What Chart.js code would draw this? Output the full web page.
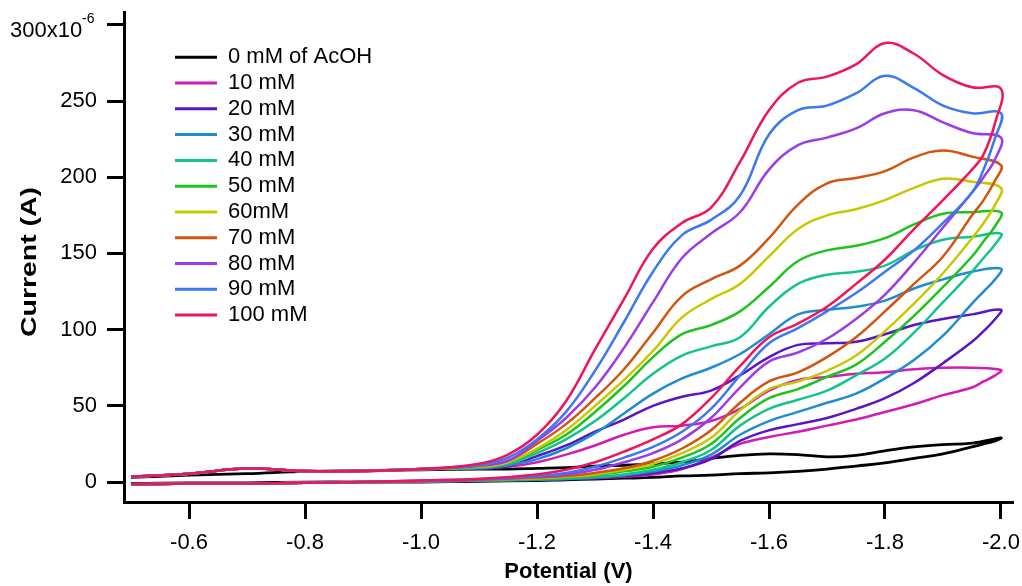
<!DOCTYPE html>
<html>
<head>
<meta charset="utf-8">
<script src="https://cdn.jsdelivr.net/npm/chart.js@4.4.0/dist/chart.umd.min.js"></script>
<style>
html,body{margin:0;padding:0;background:#ffffff;}
#wrap{width:1022px;height:586px;position:relative;}
</style>
</head>
<body>
<div id="wrap"><canvas id="c" width="1022" height="586"></canvas></div>
<script>
// ---- data (current in 1e-6 A, potential in V) ----
const seriesLabels = ['0 mM of AcOH','10 mM','20 mM','30 mM','40 mM','50 mM','60mM','70 mM','80 mM','90 mM','100 mM'];
const seriesColors = ['#000000','#d21cb4','#5a14c8','#1e8cd2','#14c38c','#1ec31e','#c8c800','#d2550f','#9b3ce6','#3c78f0','#f0145a'];

const xTicks = [-0.6,-0.8,-1.0,-1.2,-1.4,-1.6,-1.8,-2.0];
const yTicks = [0,50,100,150,200,250,300];

// forward (cathodic) sweep potentials
const fwdX = [-0.5,-0.6,-0.7,-0.8,-0.9,-1.0,-1.1,-1.15,-1.2,-1.25,-1.3,-1.35,-1.4,-1.45,-1.5,-1.55,-1.6,-1.65,-1.7,-1.75,-1.8,-1.85,-1.9,-1.95,-2.0];
// reverse sweep potentials
const revX = [-1.99,-1.97,-1.95,-1.9,-1.85,-1.8,-1.75,-1.7,-1.65,-1.6,-1.55,-1.5,-1.45,-1.4,-1.35,-1.3,-1.25,-1.2,-1.1,-1.0,-0.9,-0.8,-0.7,-0.6,-0.5];

const fwd0   = [3,4.5,5.5,7,7.5,8,8.5,8.5,9,9.5,10.5,11,12,13,15.5,17.5,18.5,18,16.5,17.5,20.5,23,24.5,25.5,29];
const rev0   = [27,25,23,18.5,15.5,12.5,10.5,8.5,7,6,5.5,4.5,4,3,2.5,2,1.5,1,0.5,0,0,0,-0.5,-0.5,-1];

const fwd10  = [3.5,5.5,8.8,7.2,7.2,8.5,9,10,13,18,24,31,36,37,40,48,60,67,69,71,72,74,75,75,73.5];
const rev10  = [70,66,62,57,51,46,41,37,33,29.5,25,16,8.5,5,3.5,2.5,2,1.5,1,0.5,0,-0.5,-1,-1,-1.5];

const fwd20  = [3.5,5.5,8.8,7.2,7.2,8.5,9,10.5,17,24,33,41,50,56,60,70,82,90,91,92,97,103,107,110,113];
const rev20  = [107,99,92,78,65,55,48,42,38,34,27,15,9,6,4,3,2,1.5,1,0.5,0,-0.5,-1,-1,-1.5];

const fwd30  = [3.5,5.5,8.8,7.2,7.2,8.5,9,11,15,22,32,45,58,68,75,84,97,110,113,115,119,127,133,138,140];
const rev30  = [133,125,117,96,80,68,58,52,46,40,31,18,11,7,4.5,3,2,1.5,1,0.5,0,-0.5,-1,-1,-1.5];

const fwd40  = [3.5,5.5,8.8,7.2,7.2,8.5,9.5,12,19,28,40,55,71,83,89,95,115,130,136,138,142,152,159,161,163];
const rev40  = [156,147,138,118,98,81,70,60,54,48,37,21,13,8,5,3.5,2.5,2,1,0.5,0,-0.5,-1,-1,-1.5];

const fwd50  = [3.5,5.5,8.8,7.2,7.2,8.5,10,12.5,21,31,46,63,82,97,103,112,128,145,152,155,160,169,176,177,177];
const rev50  = [168,158,148,128,109,92,77,69,61,55,42,25,16,10,7,4.5,3,2,1,0.5,0,-0.5,-1,-1,-1.5];

const fwd60  = [3.5,5.5,8.8,7.2,7.2,8.5,10,13,22,34,50,67,86,108,120,130,148,166,175,179,185,193,199,197,193];
const rev60  = [182,170,160,137,117,99,83,73,66,61,47,29,19,12,8,5,3.5,2.5,1.5,0.5,0,-0.5,-1,-1,-1.5];

const fwd70  = [3.5,5.5,8.8,7.2,7.2,8.5,10.5,14,25,38,55,74,98,122,133,142,160,182,196,199.5,204,213,217.5,213.5,208];
const rev70  = [198,185,175,148,130,112,95,82,72,66,52,34,22,14,9,6,4,3,1.5,0.5,0,-0.5,-1,-1,-1.5];

const fwd80  = [3.5,5.5,8.8,7.2,7.2,8.5,11,14,27,42,62,88,118,147,163,177,205,221,226,232,242,244,236,229,226];
const rev80  = [212,200,190,167,144,123,107,94,85,79,62,42,28,19,13,8,5,3.5,1.5,0.5,0,-0.5,-1,-1,-1.5];

const fwd90  = [3.5,5.5,8.8,7.2,7.2,8.5,11,16,28,46,73,105,138,162,172,188,228,244,247,255,266.5,258.5,247,242,242];
const rev90  = [226,205,190,170,152,138,124,112,101,91,70,48,33,23,16,10,6,4,2,1,0,-0.5,-1,-1,-1.5];

const fwd100 = [3.5,5.5,8.8,7.2,7.2,8.5,12,18,31,53,87,120,153,170,180,210,244,262,266,274,288,281,267,259,258];
const rev100 = [236,215,205,185,166,146,130,115,104,95,76,55,38,28,20,13,8,5,2,1,0,-0.5,-1,-1,-1.5];

const fwdSeries = [fwd0,fwd10,fwd20,fwd30,fwd40,fwd50,fwd60,fwd70,fwd80,fwd90,fwd100];
const revSeries = [rev0,rev10,rev20,rev30,rev40,rev50,rev60,rev70,rev80,rev90,rev100];

// ---- build datasets (closed CV loops) ----
const FONT = '"Liberation Sans", Arial, Helvetica, sans-serif';
const datasets = seriesLabels.map((lab, i) => {
  const pts = fwdX.map((x, k) => ({x: x, y: fwdSeries[i][k]}))
    .concat(revX.map((x, k) => ({x: x, y: revSeries[i][k]})));
  return {
    label: lab,
    data: pts,
    showLine: true,
    fill: false,
    borderColor: seriesColors[i],
    backgroundColor: seriesColors[i],
    borderWidth: i === 0 ? 2.8 : 2.5,
    pointRadius: 0,
    tension: 0.4,
    order: seriesLabels.length - 1 - i
  };
});

const legendPlugin = {
  id: 'cvLegend',
  afterDraw(chart) {
    const ctx = chart.ctx;
    ctx.save();
    chart.data.datasets.forEach((ds, i) => {
      const y = 57.3 + i * 25.77;
      ctx.strokeStyle = ds.borderColor;
      ctx.lineWidth = 3;
      ctx.beginPath(); ctx.moveTo(175, y); ctx.lineTo(217, y); ctx.stroke();
      ctx.fillStyle = '#000';
      ctx.font = '22px ' + FONT;
      ctx.textBaseline = 'middle';
      ctx.textAlign = 'left';
      ctx.fillText(ds.label, 228, y);
    });
    ctx.restore();
  }
};

const extraTextPlugin = {
  id: 'extraText',
  afterDraw(chart) {
    const ctx = chart.ctx;
    ctx.save();
    ctx.fillStyle = '#000';
    // top tick label with exponent
    ctx.font = '22px ' + FONT;
    ctx.textAlign = 'left';
    ctx.textBaseline = 'middle';
    ctx.fillText('300x10', 10, 31);
    ctx.font = '14px ' + FONT;
    ctx.fillText('-6', 82, 19);
    // y axis title (stretched along its direction)
    const t = 'Current (A)';
    ctx.translate(30, 262);
    ctx.rotate(-Math.PI / 2);
    ctx.font = 'bold 22px ' + FONT;
    const w = ctx.measureText(t).width;
    ctx.scale(150 / w, 1);
    ctx.textAlign = 'center';
    ctx.textBaseline = 'middle';
    ctx.fillText(t, 0, 0);
    ctx.restore();
  }
};

new Chart(document.getElementById('c'), {
  type: 'scatter',
  data: {datasets: datasets},
  options: {
    responsive: false,
    animation: false,
    layout: {padding: {left: 0, right: 9, top: 12, bottom: 0}},
    plugins: {legend: {display: false}, tooltip: {enabled: false}},
    elements: {point: {radius: 0}},
    scales: {
      x: {
        type: 'linear',
        reverse: true,
        min: -2.0207,
        max: -0.4879,
        afterBuildTicks: s => { s.ticks = xTicks.map(v => ({value: v})); },
        afterFit: s => { s.height = 84; s.paddingLeft = 0; s.paddingRight = 0; },
        grid: {drawOnChartArea: false, drawTicks: true, tickLength: 17, tickWidth: 3, tickColor: '#000'},
        border: {display: true, width: 3, color: '#000'},
        ticks: {
          color: '#000', padding: 11, maxRotation: 0, autoSkip: false,
          font: {family: FONT, size: 22},
          callback: v => Number(v).toFixed(1)
        },
        title: {
          display: true, text: 'Potential (V)', color: '#000',
          font: {family: FONT, size: 22, weight: 'bold'},
          padding: {top: 0, bottom: 1}
        }
      },
      y: {
        type: 'linear',
        min: -13.1,
        max: 308.4,
        afterBuildTicks: s => { s.ticks = yTicks.map(v => ({value: v})); },
        afterFit: s => { s.width = 124; s.paddingTop = 0; s.paddingBottom = 0; },
        grid: {drawOnChartArea: false, drawTicks: true, tickLength: 17, tickWidth: 3, tickColor: '#000'},
        border: {display: true, width: 3, color: '#000'},
        ticks: {
          color: '#000', padding: 10,
          font: {family: FONT, size: 22},
          callback: v => (v === 300 ? '' : String(v))
        },
        title: {display: false}
      }
    }
  },
  plugins: [legendPlugin, extraTextPlugin]
});
</script>
</body>
</html>
